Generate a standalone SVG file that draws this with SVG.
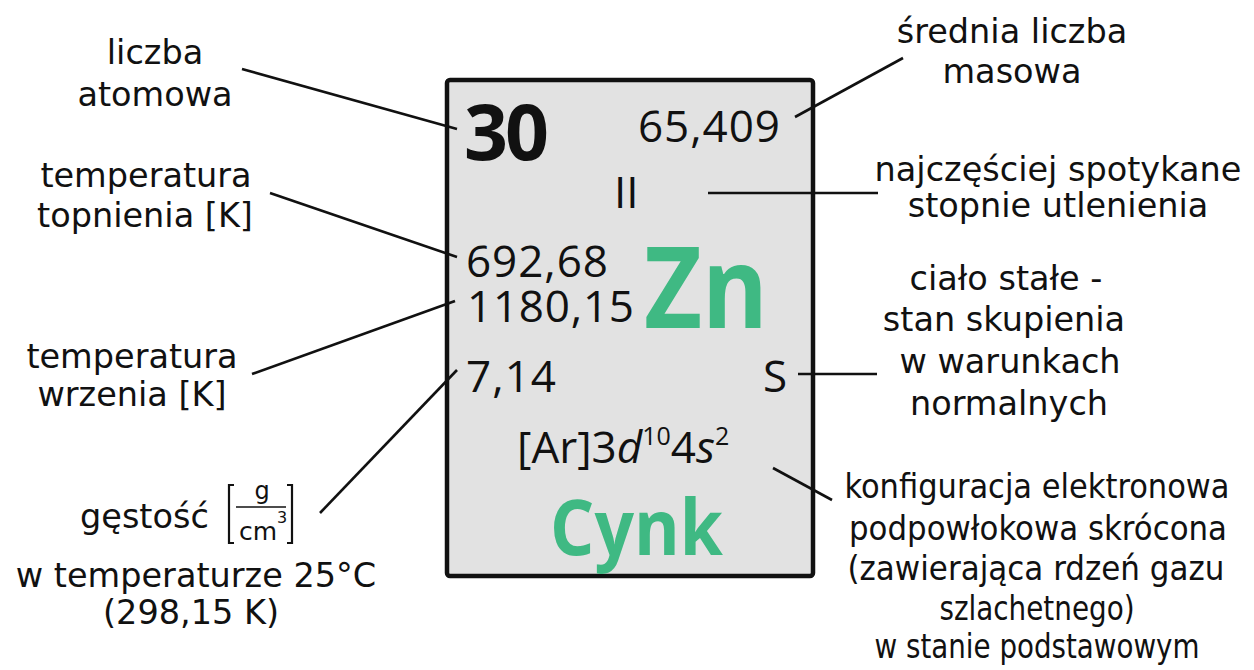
<svg xmlns="http://www.w3.org/2000/svg" width="1254" height="670" viewBox="0 0 1254 670">
<style>
.lbl{font-family:"DejaVu Sans","Verdana",sans-serif;font-size:33.5px;fill:#111;text-anchor:middle}
.lblc{font-family:"DejaVu Sans Condensed","DejaVu Sans",sans-serif;font-stretch:condensed;font-size:33px;fill:#111;text-anchor:middle}
.box{font-family:"Open Sans","Noto Sans",sans-serif;font-size:44px;fill:#111}
.big{font-family:"Open Sans","Noto Sans",sans-serif;font-weight:bold}
.green{fill:#3fb983}
.conn line{stroke:#111;stroke-width:2.6;stroke-linecap:butt}
</style>
<rect width="1254" height="670" fill="#ffffff"/>
<g id="element-card">
  <rect x="447" y="80" width="366" height="496" rx="3" fill="#e2e2e2" stroke="#111" stroke-width="4.5"/>
  <text class="big" x="464" y="160" font-size="77" fill="#111" textLength="85">30</text>
  <text class="box" x="638" y="142" textLength="142">65,409</text>
  <text class="box" x="614" y="208">II</text>
  <text class="box" x="466" y="277" textLength="142">692,68</text>
  <text class="box" x="467" y="322" textLength="167">1180,15</text>
  <text class="big green" x="644" y="328" font-size="113" textLength="124" lengthAdjust="spacingAndGlyphs">Zn</text>
  <text class="box" x="466" y="392" textLength="90">7,14</text>
  <text class="box" x="763" y="392">S</text>
  <text class="box" x="517" y="463">[Ar]3<tspan font-style="italic">d</tspan><tspan font-size="25" dy="-18">10</tspan><tspan dy="18">4</tspan><tspan font-style="italic">s</tspan><tspan font-size="25" dy="-18">2</tspan></text>
  <text class="big green" x="550" y="555" font-size="77" textLength="173" lengthAdjust="spacingAndGlyphs">Cynk</text>
</g>
<g id="label-atomic-number">
  <text class="lbl" x="155" y="64">liczba</text>
  <text class="lbl" x="155" y="106">atomowa</text>
</g>
<g id="label-mass">
  <text class="lbl" x="1012" y="43">średnia liczba</text>
  <text class="lbl" x="1012" y="83">masowa</text>
</g>
<g id="label-oxidation">
  <text class="lbl" x="1058" y="181">najczęściej spotykane</text>
  <text class="lbl" x="1058" y="217">stopnie utlenienia</text>
</g>
<g id="label-melting">
  <text class="lbl" x="146" y="187">temperatura</text>
  <text class="lbl" x="145" y="227">topnienia [K]</text>
</g>
<g id="label-boiling">
  <text class="lbl" x="132" y="368">temperatura</text>
  <text class="lbl" x="132" y="406">wrzenia [K]</text>
</g>
<g id="label-state">
  <text class="lbl" x="1006" y="290">ciało stałe -</text>
  <text class="lbl" x="1004" y="331">stan skupienia</text>
  <text class="lbl" x="1010" y="373">w warunkach</text>
  <text class="lbl" x="1009" y="415">normalnych</text>
</g>
<g id="label-density">
  <text class="lbl" x="80" y="528" style="text-anchor:start">gęstość</text>
  <path d="M234,485 H229 V543 H234 M287,485 H292 V543 H287" fill="none" stroke="#111" stroke-width="2.2"/>
  <line x1="236" y1="507" x2="286" y2="507" stroke="#111" stroke-width="1.6"/>
  <text class="lbl" x="262" y="499" style="font-size:24px">g</text>
  <text class="lbl" x="239" y="540" style="font-size:25px;text-anchor:start">cm</text>
  <text class="lbl" x="277" y="523" style="font-size:16px;text-anchor:start">3</text>
  <text class="lbl" x="196" y="587">w temperaturze 25°C</text>
  <text class="lbl" x="191" y="624">(298,15 K)</text>
</g>
<g id="label-config">
  <text class="lblc" x="1037" y="498" textLength="385" lengthAdjust="spacingAndGlyphs">konfiguracja elektronowa</text>
  <text class="lblc" x="1038" y="540" textLength="378" lengthAdjust="spacingAndGlyphs">podpowłokowa skrócona</text>
  <text class="lblc" x="1036" y="580" textLength="377" lengthAdjust="spacingAndGlyphs">(zawierająca rdzeń gazu</text>
  <text class="lblc" x="1037" y="620" textLength="195" lengthAdjust="spacingAndGlyphs">szlachetnego)</text>
  <text class="lblc" x="1037" y="658" textLength="325" lengthAdjust="spacingAndGlyphs">w stanie podstawowym</text>
</g>
<g id="connectors" class="conn">
  <line x1="242" y1="69" x2="457" y2="129"/>
  <line x1="795" y1="117" x2="903" y2="58"/>
  <line x1="708" y1="193" x2="878" y2="193"/>
  <line x1="270" y1="193" x2="457" y2="257"/>
  <line x1="252" y1="374" x2="455" y2="301"/>
  <line x1="320" y1="513" x2="457" y2="370"/>
  <line x1="798" y1="374" x2="877" y2="374"/>
  <line x1="773" y1="468" x2="832" y2="500"/>
</g>
</svg>
